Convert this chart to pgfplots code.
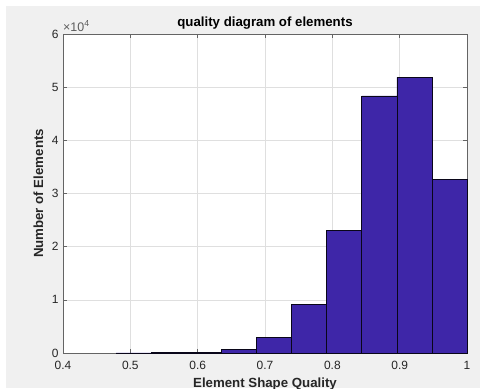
\documentclass[border=0pt]{standalone}
\usepackage{fontspec}
\setmainfont{Liberation Sans}
\usepackage{pgfplots}
\pgfplotsset{compat=1.18}
\definecolor{bg}{RGB}{240,240,240}
\definecolor{barc}{RGB}{62,38,168}
\definecolor{txt}{RGB}{38,38,38}
\definecolor{gridc}{RGB}{223,223,223}
\definecolor{axc}{RGB}{100,100,100}
\begin{document}
\begin{tikzpicture}[x=1bp,y=1bp]
\useasboundingbox (0,0) rectangle (480,388);
\fill[white] (0,0) rectangle (480,388);
\fill[bg] (6,0) rectangle (480,382);
\begin{scope}
\clip (0,0) rectangle (480,388);
\begin{axis}[
  at={(63bp,35bp)}, anchor=south west,
  scale only axis, width=404bp, height=319bp,
  xmin=0.4, xmax=1, ymin=0, ymax=60000,
  xtick={0.4,0.5,0.6,0.7,0.8,0.9,1},
  xticklabels={0.4,0.5,0.6,0.7,0.8,0.9,1},
  ytick={0,10000,20000,30000,40000,50000,60000},
  yticklabels={0,1,2,3,4,5,6},
  scaled y ticks=false, scaled x ticks=false,
  grid=major,
  major grid style={gridc, line width=0.6bp},
  axis background/.style={fill=white},
  axis line style={axc, line width=0.7bp},
  major tick style={axc, line width=0.6bp},
  major tick length=4bp,
  clip=false,
  ticklabel style={font=\fontsize{12}{14}\selectfont, text=txt},
  xticklabel style={yshift=-5bp},
  yticklabel style={xshift=-1bp},
  every axis title shift=0pt,
  title={quality diagram of elements},
  title style={at={(axis description cs:0.5,1.0235)}, anchor=base, font=\bfseries\fontsize{13.3}{15}\selectfont},
  xlabel={Element Shape Quality},
  xlabel style={at={(axis description cs:0.5,-0.1082)}, anchor=base, font=\bfseries\fontsize{13.3}{15}\selectfont, text=txt},
  ylabel={Number of Elements},
  ylabel style={at={(axis description cs:-0.0495,0.5)}, anchor=base, font=\bfseries\fontsize{13.3}{15}\selectfont, text=txt},
]
\addplot[ybar interval, fill=barc, draw=black!85!barc, line width=0.6bp] coordinates {
 (0.479,20) (0.5311,40) (0.5832,150) (0.6353,690) (0.6874,3000)
 (0.7395,9150) (0.7916,23000) (0.8437,48340) (0.8958,51850)
 (0.9479,32660) (1.0,32660)
};
\node[anchor=base west, inner sep=0pt, font=\fontsize{12.5}{14}\selectfont, text=txt!75!white] at (axis description cs:0,1.0094) {×10\textsuperscript{4}};
\end{axis}
\end{scope}
\end{tikzpicture}
\end{document}
